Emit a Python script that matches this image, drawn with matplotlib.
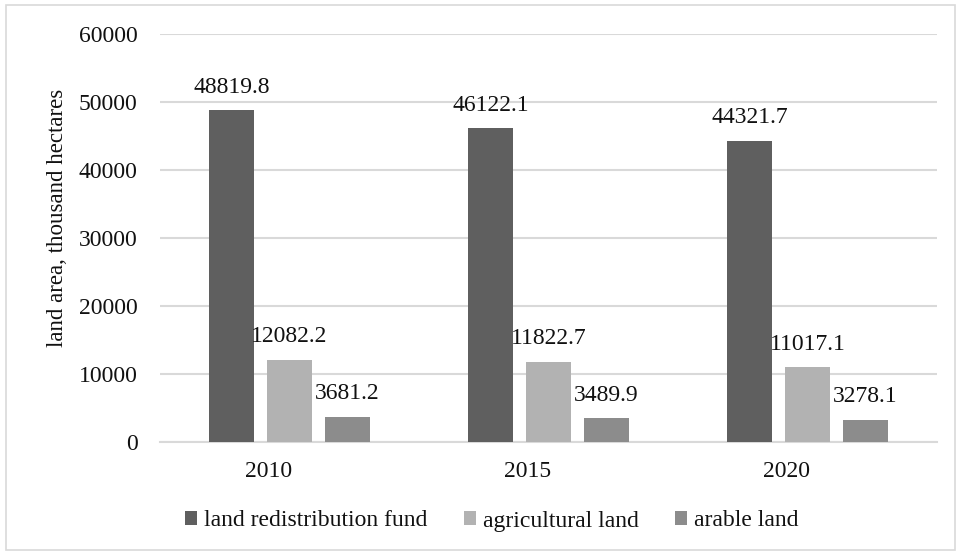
import matplotlib
matplotlib.use("Agg")
import matplotlib.pyplot as plt
import numpy as np
from matplotlib.patches import Rectangle
from matplotlib.font_manager import FontProperties

years = ["2010", "2015", "2020"]
series_names = ["land redistribution fund", "agricultural land", "arable land"]
land_redistribution_fund = [48819.8, 46122.1, 44321.7]
agricultural_land = [12082.2, 11822.7, 11017.1]
arable_land = [3681.2, 3489.9, 3278.1]
yticks = [0, 10000, 20000, 30000, 40000, 50000, 60000]

colors = ["#5f5f5f", "#b2b2b2", "#8c8c8c"]
plt.rcParams['font.family'] = ['Liberation Serif', 'DejaVu Serif']

fig = plt.figure(figsize=(9.6, 5.57), dpi=100)
ax = fig.add_axes([160/960, 1-442/557, (937-160)/960, (442-34)/557])

x = np.arange(len(years))
width = 0.174
offsets = [-0.224, 0.0, 0.224]
data = [land_redistribution_fund, agricultural_land, arable_land]
for i, (vals, name) in enumerate(zip(data, series_names)):
    bars = ax.bar(x + offsets[i], vals, width, color=colors[i], label=name, zorder=3)
    for b, v in zip(bars, vals):
        ax.annotate(f"{v:.1f}", (b.get_x() + b.get_width()/2, v),
                    xytext=(0, 9), textcoords="offset points",
                    ha="center", va="bottom", fontsize=17, color="#111111")

ax.set_xlim(-0.5, len(years) - 0.5)
ax.set_ylim(0, 60000)
ax.set_yticks(yticks)
ax.set_yticklabels([str(t) for t in yticks], fontsize=17)
ax.set_xticks(x - 0.081)
ax.set_xticklabels(years, fontsize=17)
ax.tick_params(axis='y', length=0, pad=16, colors="#111111")
ax.tick_params(axis='x', length=0, pad=14, colors="#111111")
ax.yaxis.grid(True, color="#d9d9d9", linewidth=1.5, zorder=0)
ax.set_axisbelow(True)
for s in ["top", "right", "left"]:
    ax.spines[s].set_visible(False)
ax.spines["bottom"].set_color("#d9d9d9")
ax.spines["bottom"].set_linewidth(1.5)
ax.set_ylabel("land area, thousand hectares", fontsize=16.5, color="#111111")
ax.yaxis.set_label_coords(-0.119, 0.549)

leg_font = FontProperties(family=['Liberation Serif', 'DejaVu Serif'], size=17)
leg = fig.legend(loc="center", bbox_to_anchor=(0.5125, 1-521/557), ncol=3, frameon=False,
                 prop=leg_font, handlelength=0.5, handleheight=0.5, handletextpad=0.3,
                 columnspacing=1.55)
for t in leg.get_texts():
    t.set_color("#111111")

fig.patches.append(Rectangle((6/960, 1-550/557), (955-6)/960, (550-5)/557,
                             transform=fig.transFigure, fill=False,
                             edgecolor="#d9d9d9", linewidth=1.2))

fig.savefig("out.png", dpi=100)
